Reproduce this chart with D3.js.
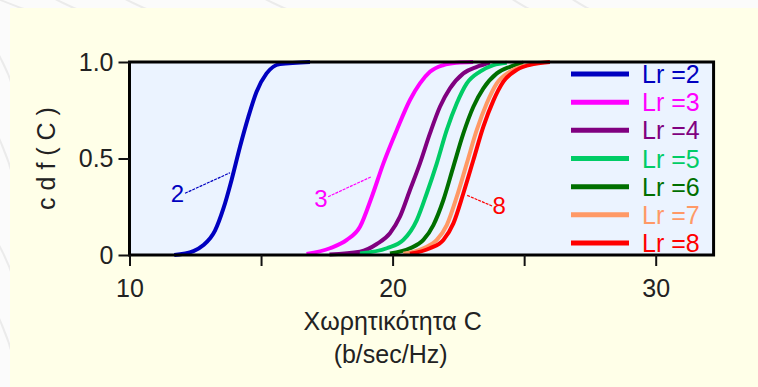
<!DOCTYPE html>
<html>
<head>
<meta charset="utf-8">
<script src="https://cdn.jsdelivr.net/npm/d3@7"></script>
<style>
  body { margin: 0; background: #fbfbfb; }
  text { font-family: "Liberation Sans", Arial, sans-serif; }
</style>
</head>
<body>
<div id="container"></div>
<script>
/* CONSTANTS AND GLOBALS */
const width = 758;
const height = 387;

// series: Lr value, colour
const seriesNames = ["Lr =2", "Lr =3", "Lr =4", "Lr =5", "Lr =6", "Lr =7", "Lr =8"];
const seriesColors = ["#0000c0", "#ff00ff", "#800080", "#00cc66", "#006f00", "#ff9966", "#ff0000"];

// capacity C (b/sec/Hz) and cdf values
const capLr2 = [11.7, 12.43, 12.8, 13.25, 13.57, 13.88, 14.2, 14.52, 14.83, 15.21, 15.72, 16.86];
const cdfLr2 = [0, 0.02, 0.05, 0.126, 0.241, 0.389, 0.561, 0.717, 0.846, 0.941, 0.989, 1.0];
const capLr3 = [16.73, 17.62, 18.26, 18.76, 19.21, 19.65, 20.16, 20.66, 21.04, 21.42, 21.93, 22.44, 23.06];
const cdfLr3 = [0.005, 0.035, 0.078, 0.146, 0.302, 0.475, 0.648, 0.803, 0.889, 0.949, 0.984, 0.996, 1.0];
const capLr4 = [17.6, 18.76, 19.4, 19.9, 20.28, 20.66, 21.04, 21.42, 21.8, 22.18, 22.69, 23.2, 23.7];
const cdfLr4 = [0.003, 0.017, 0.057, 0.113, 0.199, 0.337, 0.475, 0.63, 0.768, 0.863, 0.941, 0.975, 0.996];
const capLr5 = [18.76, 19.78, 20.41, 20.92, 21.3, 21.68, 22.06, 22.44, 22.82, 23.32, 23.83, 24.34];
const cdfLr5 = [0.008, 0.035, 0.078, 0.181, 0.32, 0.475, 0.648, 0.786, 0.889, 0.95, 0.984, 0.996];
const capLr6 = [19.9, 20.66, 21.17, 21.55, 21.93, 22.31, 22.69, 23.07, 23.45, 23.96, 24.46, 24.97];
const cdfLr6 = [0.008, 0.035, 0.078, 0.155, 0.285, 0.458, 0.63, 0.768, 0.863, 0.941, 0.975, 0.996];
const capLr7 = [20.41, 21.17, 21.68, 22.06, 22.44, 22.82, 23.2, 23.58, 23.96, 24.46, 25.1, 25.6];
const cdfLr7 = [0.006, 0.035, 0.078, 0.155, 0.302, 0.475, 0.648, 0.786, 0.889, 0.95, 0.984, 0.996];
const capLr8 = [20.66, 21.42, 21.93, 22.31, 22.69, 23.07, 23.45, 23.83, 24.21, 24.72, 25.35, 25.98];
const cdfLr8 = [0.006, 0.035, 0.078, 0.164, 0.32, 0.492, 0.665, 0.8, 0.898, 0.959, 0.989, 1.0];

const capSeries = [capLr2, capLr3, capLr4, capLr5, capLr6, capLr7, capLr8];
const cdfSeries = [cdfLr2, cdfLr3, cdfLr4, cdfLr5, cdfLr6, cdfLr7, cdfLr8];

// axis ticks
const xTicks = [10, 15, 20, 25, 30];
const xTickLabels = ["10", "", "20", "", "30"];
const yTicks = [0, 0.5, 1];
const yTickLabels = ["0", "0.5", "1.0"];
const xDomainMax = 32.2;

// curve annotations: text, series index, label point and line end (data units)
const annText = ["2", "3", "8"];
const annSeries = [0, 1, 6];
const annLabelC = [11.82, 17.28, 24.05];
const annLabelF = [0.316, 0.293, 0.254];
const annFromC = [12.11, 17.55, 23.78];
const annFromF = [0.32, 0.302, 0.254];
const annToC = [13.82, 19.2, 22.82];
const annToF = [0.426, 0.406, 0.31];

/* SCALES */
const xScale = d3.scaleLinear().domain([10, 30]).range([129.5, 655.7]);
const yScale = d3.scaleLinear().domain([0, 1]).range([255, 62]);
const legendY = d3.scalePoint().domain(seriesNames).range([74, 243]);

/* HTML ELEMENTS */
const svg = d3.select("#container")
  .append("svg")
  .attr("width", width)
  .attr("height", height);

// outer margin texture
const texture = svg.append("g").attr("stroke", "#ebebeb").attr("fill", "none").attr("stroke-width", 2);
[[-20, 40], [40, 90], [110, 160], [250, 300], [500, 540], [560, 600]].forEach(([a, b]) => {
  texture.append("path").attr("d", `M${a},-10 Q${(a + b) / 2},6 ${b},14`);
});
[[40, 90], [120, 180], [230, 280], [300, 360]].forEach(([a, b]) => {
  texture.append("path").attr("d", `M-10,${a} Q6,${(a + b) / 2} 14,${b}`);
});

// cream panel
svg.append("rect")
  .attr("x", 10).attr("y", 8)
  .attr("width", width - 10).attr("height", height - 8)
  .attr("fill", "#ffffe8");

const x0 = xScale(10), x1 = xScale(xDomainMax);
const y0 = yScale(0), y1 = yScale(1);

// plot background
svg.append("rect")
  .attr("x", x0).attr("y", y1)
  .attr("width", x1 - x0).attr("height", y0 - y1)
  .attr("fill", "#ebf3ff");

// curves
const line = d3.line()
  .x(d => xScale(d[0]))
  .y(d => yScale(d[1]))
  .curve(d3.curveMonotoneX);

seriesNames.forEach((name, i) => {
  const pts = capSeries[i].map((c, j) => [c, cdfSeries[i][j]]);
  svg.append("path")
    .datum(pts)
    .attr("d", line)
    .attr("fill", "none")
    .attr("stroke", seriesColors[i])
    .attr("stroke-width", 4);
});

// annotations
annText.forEach((t, i) => {
  const col = seriesColors[annSeries[i]];
  svg.append("line")
    .attr("x1", xScale(annFromC[i])).attr("y1", yScale(annFromF[i]))
    .attr("x2", xScale(annToC[i])).attr("y2", yScale(annToF[i]))
    .attr("stroke", col).attr("stroke-width", 1.2)
    .attr("stroke-dasharray", "3,1");
  svg.append("text")
    .attr("x", xScale(annLabelC[i])).attr("y", yScale(annLabelF[i]))
    .attr("dy", "0.35em")
    .attr("text-anchor", "middle")
    .style("font-size", "24px")
    .style("fill", col)
    .text(t);
});

// frame
svg.append("rect")
  .attr("x", x0).attr("y", y1)
  .attr("width", x1 - x0).attr("height", y0 - y1)
  .attr("fill", "none")
  .attr("stroke", "#000")
  .attr("stroke-width", 3);

// axes
const xAxis = svg.append("g")
  .attr("transform", `translate(0,${y0})`)
  .call(d3.axisBottom(xScale).tickValues(xTicks)
    .tickFormat((d, i) => xTickLabels[i]).tickSize(11).tickPadding(13));
const yAxis = svg.append("g")
  .attr("transform", `translate(${x0},0)`)
  .call(d3.axisLeft(yScale).tickValues(yTicks)
    .tickFormat((d, i) => yTickLabels[i]).tickSize(11).tickPadding(5));

[xAxis, yAxis].forEach(g => {
  g.select(".domain").remove();
  g.selectAll(".tick line").attr("stroke", "#111").attr("stroke-width", 2);
  g.selectAll(".tick text").style("font-size", "25px").style("fill", "#222")
    .style("font-family", "'Liberation Sans', Arial, sans-serif");
});

// axis titles
svg.append("text")
  .attr("x", xScale(20)).attr("y", 330)
  .attr("text-anchor", "middle")
  .style("font-size", "25px").style("fill", "#222")
  .text("Χωρητικότητα C");
svg.append("text")
  .attr("x", xScale(20) - 2).attr("y", 363)
  .attr("text-anchor", "middle")
  .style("font-size", "25px").style("fill", "#222")
  .text("(b/sec/Hz)");
svg.append("text")
  .attr("transform", `translate(55,${yScale(0.5)}) rotate(-90)`)
  .attr("text-anchor", "middle")
  .style("font-size", "25px").style("fill", "#222")
  .text("c d f ( C )");

// legend
const legend = svg.append("g");
seriesNames.forEach((name, i) => {
  legend.append("line")
    .attr("x1", 571).attr("x2", 629)
    .attr("y1", legendY(name)).attr("y2", legendY(name))
    .attr("stroke", seriesColors[i]).attr("stroke-width", 5);
  legend.append("text")
    .attr("x", 642).attr("y", legendY(name))
    .attr("dy", "0.36em")
    .style("font-size", "25px")
    .style("fill", seriesColors[i])
    .text(name);
});
</script>
</body>
</html>
